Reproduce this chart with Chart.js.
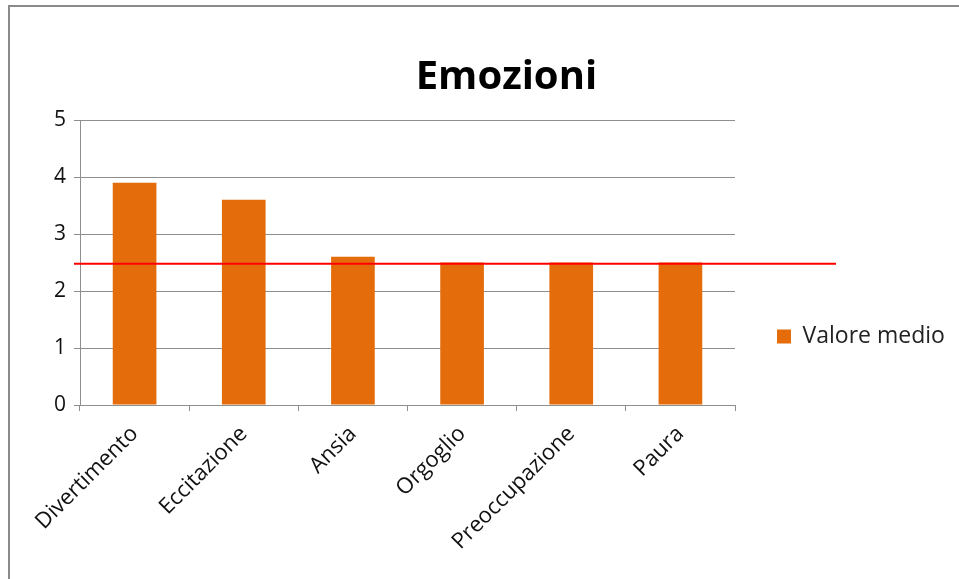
<!DOCTYPE html>
<html>
<head>
<meta charset="utf-8">
<script src="https://cdn.jsdelivr.net/npm/chart.js@4/dist/chart.umd.min.js"></script>
<style>
  body { margin: 0; background: #fff; }
  #frame { position: absolute; left: 8px; top: 5px; width: 1000px; height: 700px;
           border-left: 2px solid #8a8a8a; border-top: 2px solid #8a8a8a; }
  #wrap { position: absolute; left: 0; top: 0; width: 959px; height: 579px; }
</style>
</head>
<body>
<div id="frame"></div>
<div id="wrap"><canvas id="chart"></canvas></div>
<script>
const categories = ['Divertimento', 'Eccitazione', 'Ansia', 'Orgoglio', 'Preoccupazione', 'Paura'];
const valoreMedio = [3.9, 3.6, 2.6, 2.5, 2.5, 2.5];
const yTicks = [0, 1, 2, 3, 4, 5];
const mediaLinea = 2.48;

const FONT = 'Open Sans';
const orange = '#E46C0A';
const grid = '#8e8e8e';

// legend item width, so the plot area ends where the reference does
const legendFont = 23;
const legendPad = 42;
const mctx = document.createElement('canvas').getContext('2d');
mctx.font = legendFont + 'px "' + FONT + '"';
const legendW = legendPad + 14 + legendFont / 2 + mctx.measureText('Valore medio').width + 10;
const padRight = 959 - 735 - legendW;

const redLine = {
    id: 'redLine',
    afterDatasetsDraw(chart) {
        const { ctx, chartArea, scales } = chart;
        const y = scales.y.getPixelForValue(mediaLinea);
        ctx.save();
        ctx.strokeStyle = '#ff0000';
        ctx.lineWidth = 2;
        ctx.beginPath();
        ctx.moveTo(chartArea.left - 6, y);
        ctx.lineTo(chartArea.right + 101, y);
        ctx.stroke();
        ctx.restore();
    }
};

// move legend down and title right, as in the reference
const nudge = {
    id: 'nudge',
    afterLayout(chart) {
        chart.legend.top += 47;
        chart.legend.bottom += 47;
        chart.titleBlock.left += 29;
        chart.titleBlock.right += 29;
    }
};

new Chart(document.getElementById('chart'), {
    type: 'bar',
    data: {
        labels: categories,
        datasets: [{
            label: 'Valore medio',
            data: valoreMedio,
            backgroundColor: orange,
            borderColor: orange,
            borderWidth: 0,
            categoryPercentage: 1,
            barPercentage: 0.4
        }]
    },
    options: {
        responsive: true,
        maintainAspectRatio: false,
        animation: false,
        layout: { padding: { top: 0, left: 0, bottom: 0, right: padRight } },
        plugins: {
            title: {
                display: true,
                text: 'Emozioni',
                color: '#000',
                font: { family: FONT, size: 40, weight: 'bold' },
                padding: { top: 54, bottom: 18 }
            },
            legend: {
                position: 'right',
                labels: {
                    boxWidth: 14,
                    boxHeight: 14,
                    padding: legendPad,
                    color: '#222',
                    font: { family: FONT, size: legendFont }
                }
            },
            tooltip: { enabled: false }
        },
        scales: {
            x: {
                grid: { display: true, drawOnChartArea: false, color: grid, tickLength: 6, offset: true },
                border: { color: grid, width: 1 },
                ticks: {
                    color: '#111',
                    font: { family: FONT, size: 22 },
                    minRotation: 45,
                    maxRotation: 45,
                    padding: 10
                },
                afterFit(scale) { scale.height = 579 - 405; }
            },
            y: {
                min: 0,
                max: 5,
                afterBuildTicks(scale) { scale.ticks = yTicks.map(v => ({ value: v })); },
                grid: { color: grid, tickLength: 6 },
                border: { color: grid, width: 1 },
                ticks: {
                    color: '#111',
                    font: { family: FONT, size: 21 },
                    padding: 8
                },
                afterFit(scale) { scale.width = 80; }
            }
        }
    },
    plugins: [redLine, nudge]
});
</script>
</body>
</html>
